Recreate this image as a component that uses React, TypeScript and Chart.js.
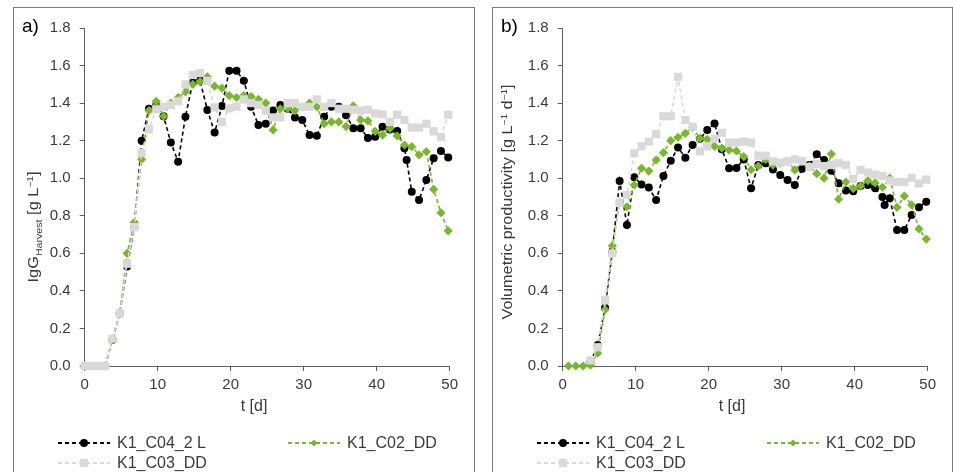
import React, { useEffect, useRef } from 'react';
import { Chart, registerables } from 'chart.js';

Chart.register(...registerables);

// ---------- data ----------
// time points (days)
const tLeft = [0, 0.8, 1.8, 2.8, 3.8, 4.8, 5.8, 6.8, 7.8, 8.8, 9.8, 10.8, 11.8, 12.8, 13.8, 14.8, 15.8, 16.8, 17.8, 18.8, 19.8, 20.8, 21.8, 22.8, 23.8, 24.8, 25.8, 26.8, 27.8, 28.8, 29.8, 30.8, 31.8, 32.8, 33.8, 34.8, 35.8, 36.8, 37.8, 38.8, 39.8, 40.8, 41.8, 42.8, 43.8, 44.8, 45.8, 46.8, 47.8, 48.8, 49.8];
const tLeftC04 = [0, 0.8, 1.8, 2.8, 3.8, 4.8, 5.8, 6.8, 7.8, 8.8, 9.8, 10.8, 11.8, 12.8, 13.8, 14.8, 15.8, 16.8, 17.8, 18.8, 19.8, 20.8, 21.8, 22.8, 23.8, 24.8, 25.8, 26.8, 27.8, 28.8, 29.8, 30.8, 31.8, 32.8, 33.8, 34.8, 35.8, 36.8, 37.8, 38.8, 39.8, 40.8, 41.8, 42.8, 43.8, 44.1, 44.8, 45.8, 46.8, 47.8, 48.8, 49.8];
const tRight = [0.8, 1.8, 2.8, 3.8, 4.8, 5.8, 6.8, 7.8, 8.8, 9.8, 10.8, 11.8, 12.8, 13.8, 14.8, 15.8, 16.8, 17.8, 18.8, 19.8, 20.8, 21.8, 22.8, 23.8, 24.8, 25.8, 26.8, 27.8, 28.8, 29.8, 30.8, 31.8, 32.8, 33.8, 34.8, 35.8, 36.8, 37.8, 38.8, 39.8, 40.8, 41.8, 42.8, 43.8, 44.8, 45.8, 46.8, 47.8, 48.8, 49.8];
const tRightC04 = [0.8, 1.8, 2.8, 3.8, 4.8, 5.8, 6.8, 7.8, 8.8, 9.8, 10.8, 11.8, 12.8, 13.8, 14.8, 15.8, 16.8, 17.8, 18.8, 19.8, 20.8, 21.8, 22.8, 23.8, 24.8, 25.8, 26.8, 27.8, 28.8, 29.8, 30.8, 31.8, 32.8, 33.8, 34.8, 35.8, 36.8, 37.8, 38.8, 39.8, 40.8, 41.8, 42.8, 43.8, 44.1, 44.8, 45.8, 46.8, 47.8, 48.8, 49.8];

// a) IgG harvest [g/L]
const iggC04 = [0, 0, 0, 0, 0.14, 0.28, 0.53, 0.74, 1.20, 1.37, 1.39, 1.33, 1.19, 1.088, 1.328, 1.51, 1.52, 1.363, 1.244, 1.384, 1.572, 1.572, 1.519, 1.38, 1.283, 1.29, 1.36, 1.39, 1.37, 1.324, 1.31, 1.23, 1.226, 1.327, 1.38, 1.38, 1.336, 1.266, 1.266, 1.214, 1.221, 1.274, 1.26, 1.251, 1.159, 1.097, 0.928, 0.884, 0.99, 1.106, 1.145, 1.111];
const iggC02 = [0, 0, 0, 0, 0.14, 0.28, 0.60, 0.765, 1.10, 1.36, 1.41, 1.33, 1.40, 1.43, 1.46, 1.50, 1.515, 1.54, 1.49, 1.48, 1.44, 1.43, 1.44, 1.435, 1.42, 1.40, 1.257, 1.37, 1.37, 1.36, 1.38, 1.40, 1.38, 1.29, 1.30, 1.30, 1.275, 1.385, 1.31, 1.305, 1.25, 1.23, 1.265, 1.225, 1.177, 1.168, 1.124, 1.141, 0.941, 0.816, 0.72];
const iggC03 = [0, 0, 0, 0, 0.146, 0.28, 0.545, 0.74, 1.136, 1.26, 1.367, 1.38, 1.39, 1.41, 1.50, 1.55, 1.56, 1.518, 1.377, 1.30, 1.372, 1.381, 1.42, 1.40, 1.39, 1.36, 1.324, 1.324, 1.40, 1.40, 1.38, 1.38, 1.42, 1.38, 1.40, 1.37, 1.37, 1.365, 1.36, 1.365, 1.345, 1.34, 1.30, 1.338, 1.31, 1.27, 1.27, 1.29, 1.25, 1.22, 1.338];

// b) volumetric productivity [g/L/d]
const prodC04 = [null, null, null, 0.02, 0.112, 0.31, 0.61, 0.985, 0.751, 1.005, 0.967, 0.95, 0.884, 1.012, 1.093, 1.164, 1.109, 1.177, 1.21, 1.257, 1.292, 1.154, 1.053, 1.055, 1.10, 0.946, 1.07, 1.08, 1.047, 1.017, 0.99, 0.964, 1.05, 1.07, 1.127, 1.097, 1.04, 0.973, 0.934, 0.93, 0.958, 0.964, 0.946, 0.90, 0.857, 0.893, 0.724, 0.724, 0.804, 0.845, 0.875];
const prodC02 = [0, 0, 0, 0.005, 0.068, 0.30, 0.64, 0.87, 0.848, 0.964, 1.053, 1.038, 1.097, 1.136, 1.20, 1.218, 1.239, 1.27, 1.212, 1.207, 1.17, 1.16, 1.15, 1.145, 1.115, 1.045, 1.065, 1.10, 1.07, 1.08, 1.09, 1.044, 1.09, 1.065, 1.024, 1.0, 1.129, 0.888, 0.98, 0.945, 0.958, 0.987, 0.975, 0.952, 1.0, 0.845, 0.905, 0.858, 0.73, 0.676];
const prodC03 = [null, null, null, 0.03, 0.10, 0.35, 0.60, 0.87, 0.91, 1.133, 1.17, 1.195, 1.235, 1.33, 1.33, 1.54, 1.31, 1.275, 1.143, 1.17, 1.21, 1.242, 1.19, 1.19, 1.195, 1.19, 1.12, 1.12, 1.09, 1.083, 1.09, 1.10, 1.09, 1.06, 1.075, 1.065, 1.07, 1.08, 1.07, 0.995, 1.045, 1.03, 1.02, 1.012, 0.988, 0.98, 0.98, 1.002, 0.972, 0.993];

const seriesNames = ['K1_C04_2 L', 'K1_C02_DD', 'K1_C03_DD'];
const yTicksMin = 0;
const yTicksMax = 1.8;
const yTickStep = 0.2;
const xTicksMin = 0;
const xTicksMax = 50;
const xTickStep = 10;

// ---------- styles ----------
const FONT = '"Liberation Sans", Arial, Helvetica, sans-serif';
const TEXT = '#3a3a3a';
const AXIS = '#5f5f5f';
const BLACK = '#000000';
const GREEN = '#78b82a';
const GRAY = '#d9d9d9';

type Seg = { text: string; scale: number; dy: number };

type Spec = {
  letter: string;
  left: number;
  innerW: number;
  areaLeft: number;
  areaRight: number;
  xs: number[][];
  ys: (number | null)[][];
  yTitle: Seg[];
  yTitleX: number;
  yTitleY: number;
  yTitleLen: number;
  xTitleX: number;
};

const CANVAS_H = 470;
const AREA_TOP = 20;
const AREA_BOTTOM = 358;
const XAXIS_H = 40;

function drawMarker(ctx: CanvasRenderingContext2D, style: string, x: number, y: number, r: number, color: string) {
  ctx.fillStyle = color;
  ctx.beginPath();
  if (style === 'circle') {
    ctx.arc(x, y, r, 0, Math.PI * 2);
  } else if (style === 'rectRot') {
    ctx.moveTo(x, y - r);
    ctx.lineTo(x + r, y);
    ctx.lineTo(x, y + r);
    ctx.lineTo(x - r, y);
    ctx.closePath();
  } else {
    ctx.rect(x - r, y - r, 2 * r, 2 * r);
  }
  ctx.fill();
}

function makeOverlay(spec: Spec) {
  return {
    id: 'overlay',
    afterDraw(chart: any) {
      const ctx: CanvasRenderingContext2D = chart.ctx;
      ctx.save();
      // panel letter
      ctx.fillStyle = '#000';
      ctx.font = `19px ${FONT}`;
      ctx.textAlign = 'left';
      ctx.textBaseline = 'middle';
      ctx.fillText(spec.letter, 8, 19);

      // x title
      ctx.fillStyle = TEXT;
      ctx.font = `16px ${FONT}`;
      ctx.textAlign = 'center';
      ctx.fillText('t [d]', spec.xTitleX, 399);

      // y title (rotated, rich text)
      const size = 14;
      ctx.save();
      ctx.translate(spec.yTitleX, spec.yTitleY);
      ctx.rotate(-Math.PI / 2);
      let total = 0;
      const widths: number[] = [];
      for (const s of spec.yTitle) {
        ctx.font = `${size * s.scale}px ${FONT}`;
        const w = ctx.measureText(s.text).width;
        widths.push(w);
        total += w;
      }
      ctx.scale(spec.yTitleLen / total, 1);
      ctx.textAlign = 'left';
      ctx.textBaseline = 'alphabetic';
      let x = -total / 2;
      spec.yTitle.forEach((s, i) => {
        ctx.font = `${size * s.scale}px ${FONT}`;
        ctx.fillText(s.text, x, size * 0.36 + s.dy * size);
        x += widths[i];
      });
      ctx.restore();

      // legend
      const items = [
        { label: seriesNames[0], color: BLACK, style: 'circle', r: 4, x0: 44, y: 435 },
        { label: seriesNames[1], color: GREEN, style: 'rectRot', r: 3.5, x0: 274, y: 435 },
        { label: seriesNames[2], color: GRAY, style: 'rect', r: 4.2, x0: 44, y: 455 },
      ];
      for (const it of items) {
        ctx.strokeStyle = it.color;
        ctx.lineWidth = 2;
        ctx.setLineDash([4, 3]);
        ctx.beginPath();
        ctx.moveTo(it.x0, it.y);
        ctx.lineTo(it.x0 + 52, it.y);
        ctx.stroke();
        ctx.setLineDash([]);
        drawMarker(ctx, it.style, it.x0 + 26, it.y, it.r, it.color);
        ctx.fillStyle = TEXT;
        ctx.font = `16px ${FONT}`;
        ctx.textAlign = 'left';
        ctx.textBaseline = 'middle';
        ctx.fillText(it.label, it.x0 + 59, it.y + 1);
      }
      ctx.restore();
    },
  };
}

function Panel({ spec }: { spec: Spec }) {
  const ref = useRef<HTMLCanvasElement | null>(null);
  useEffect(() => {
    if (!ref.current) return;
    const colors = [BLACK, GREEN, GRAY];
    const styles = ['circle', 'rectRot', 'rect'];
    const radii = [4, 4.6, 5.8];
    // later series drawn on top (as in the original spreadsheet figure)
    const drawOrder = [2, 1, 0];
    const datasets = [0, 1, 2].map((k) => ({
      label: seriesNames[k],
      data: spec.xs[k].map((x, i) => ({ x, y: spec.ys[k][i] })),
      order: drawOrder[k],
      borderColor: colors[k],
      backgroundColor: colors[k],
      pointBackgroundColor: colors[k],
      pointBorderColor: colors[k],
      pointBorderWidth: 0,
      pointStyle: styles[k],
      pointRadius: radii[k],
      borderWidth: 1.6,
      borderDash: [4, 3],
      tension: 0,
      spanGaps: false,
      clip: false as any,
    }));
    const tickFont = { family: FONT, size: 15 };
    const chart = new Chart(ref.current, {
      type: 'line',
      data: { datasets: datasets as any },
      options: {
        responsive: false,
        animation: false,
        devicePixelRatio: 1,
        layout: {
          padding: {
            left: 0,
            top: AREA_TOP,
            right: spec.innerW - spec.areaRight,
            bottom: CANVAS_H - AREA_BOTTOM - XAXIS_H,
          },
        },
        plugins: {
          legend: { display: false },
          tooltip: { enabled: false },
          title: { display: false },
        },
        scales: {
          x: {
            type: 'linear',
            min: xTicksMin,
            max: xTicksMax,
            ticks: {
              stepSize: xTickStep,
              color: TEXT,
              font: tickFont,
              padding: 5,
              maxRotation: 0,
              autoSkip: false,
              callback: (v: any) => String(v),
            },
            grid: { drawOnChartArea: false, drawTicks: true, tickLength: 5, color: AXIS, lineWidth: 1 },
            border: { display: true, color: AXIS, width: 1 },
            afterFit: (s: any) => {
              s.height = XAXIS_H;
            },
          },
          y: {
            type: 'linear',
            min: yTicksMin,
            max: yTicksMax,
            ticks: {
              stepSize: yTickStep,
              color: TEXT,
              font: tickFont,
              padding: 9,
              callback: (v: any) => Number(v).toFixed(1),
            },
            grid: { drawOnChartArea: false, drawTicks: true, tickLength: 5, color: AXIS, lineWidth: 1 },
            border: { display: true, color: AXIS, width: 1 },
            afterFit: (s: any) => {
              s.width = spec.areaLeft;
            },
          },
        },
      } as any,
      plugins: [makeOverlay(spec)],
    });
    return () => chart.destroy();
  }, [spec]);

  return (
    <div
      style={{
        position: 'absolute',
        left: spec.left,
        top: 7,
        width: spec.innerW,
        height: 480,
        border: '1px solid #7a7a7a',
        background: '#fff',
      }}
    >
      <canvas ref={ref} width={spec.innerW} height={CANVAS_H} style={{ display: 'block' }} />
    </div>
  );
}

const specA: Spec = {
  letter: 'a)',
  left: 13,
  innerW: 460,
  areaLeft: 70.7,
  areaRight: 435.7,
  xs: [tLeftC04, tLeft, tLeft],
  ys: [iggC04, iggC02, iggC03],
  yTitle: [
    { text: 'IgG', scale: 1, dy: 0 },
    { text: 'Harvest', scale: 0.65, dy: 0.3 },
    { text: ' [g L', scale: 1, dy: 0 },
    { text: '\u22121', scale: 0.62, dy: -0.38 },
    { text: ']', scale: 1, dy: 0 },
  ],
  yTitleX: 19,
  yTitleY: 219,
  yTitleLen: 111,
  xTitleX: 240,
};

const specB: Spec = {
  letter: 'b)',
  left: 492,
  innerW: 459,
  areaLeft: 69.7,
  areaRight: 434.7,
  xs: [tRightC04, tRight, tRight],
  ys: [prodC04, prodC02, prodC03],
  yTitle: [
    { text: 'Volumetric productivity [g L', scale: 1, dy: 0 },
    { text: '\u22121', scale: 0.62, dy: -0.38 },
    { text: ' d', scale: 1, dy: 0 },
    { text: '\u22121', scale: 0.62, dy: -0.38 },
    { text: ']', scale: 1, dy: 0 },
  ],
  yTitleX: 14,
  yTitleY: 194,
  yTitleLen: 235,
  xTitleX: 239,
};

export default function App() {
  return (
    <div style={{ position: 'absolute', left: 0, top: 0, width: 955, height: 472, overflow: 'hidden', background: '#fff' }}>
      <Panel spec={specA} />
      <Panel spec={specB} />
    </div>
  );
}
